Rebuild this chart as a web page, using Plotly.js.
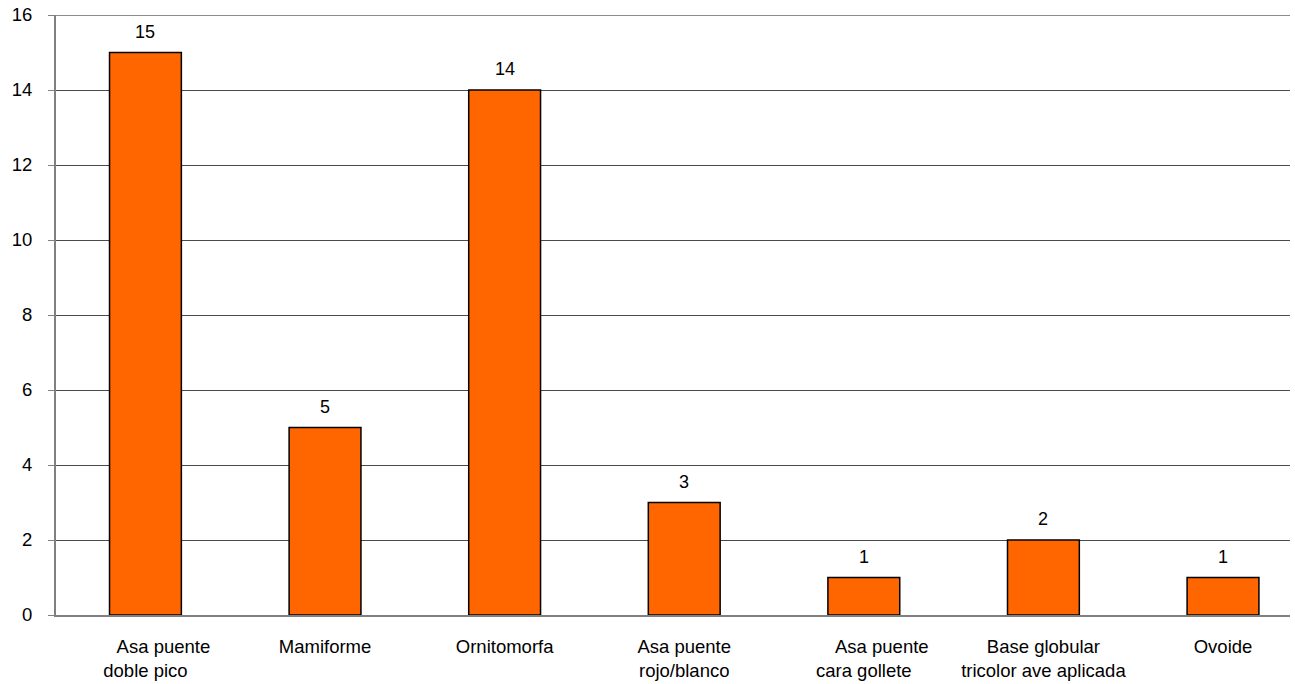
<!DOCTYPE html>
<html>
<head>
<meta charset="utf-8">
<script src="https://cdn.plot.ly/plotly-3.0.1.min.js"></script>
<style>html,body{margin:0;padding:0;background:#fff;}#chart{width:1295px;height:684px;}</style>
</head>
<body>
<div id="chart"></div>
<script>
const NB = '\u00a0\u00a0\u00a0\u00a0\u00a0\u00a0\u00a0';
const categories = [
  NB + "Asa puente<br>doble pico",
  "Mamiforme",
  "Ornitomorfa",
  "Asa puente<br>rojo/blanco",
  NB + "Asa puente<br>cara gollete",
  "Base globular<br>tricolor ave aplicada",
  "Ovoide"
];
const values = [15, 5, 14, 3, 1, 2, 1];
const yTicks = [0, 2, 4, 6, 8, 10, 12, 14, 16];

const FONT = 'Liberation Sans, Arial, sans-serif';

const trace = {
  type: 'bar',
  x: categories,
  y: values,
  marker: {color: '#FF6600', line: {color: '#000', width: 1.5}},
  hoverinfo: 'none'
};

const annotations = values.map((v, i) => ({
  x: categories[i], y: v, xref: 'x', yref: 'y',
  text: String(v), showarrow: false,
  yanchor: 'bottom', yshift: 9,
  font: {family: FONT, size: 18, color: '#000'}
}));

const layout = {
  width: 1295, height: 684,
  margin: {l: 56, r: 5, t: 15, b: 69},
  paper_bgcolor: '#fff', plot_bgcolor: '#fff',
  bargap: 0.6,
  showlegend: false,
  font: {family: FONT, size: 18, color: '#000'},
  xaxis: {
    type: 'category',
    range: [-0.498, 6.373],
    showgrid: false,
    showline: true, linecolor: '#808080', linewidth: 2,
    ticks: '', tickfont: {size: 18.5},
    ticklabelstandoff: 14,
    fixedrange: true
  },
  yaxis: {
    range: [0, 16],
    tickvals: yTicks,
    ticktext: yTicks.map(String),
    showgrid: true, gridcolor: '#4a4a4a', gridwidth: 1,
    showline: true, linecolor: '#808080', linewidth: 2,
    ticks: 'outside', ticklen: 6, tickcolor: '#808080', tickwidth: 1,
    tickfont: {size: 18.5},
    ticklabelstandoff: 12,
    zeroline: false,
    fixedrange: true
  },
  annotations: annotations,
  shapes: [{type: 'line', xref: 'paper', yref: 'y', x0: 0, x1: 1, y0: 16, y1: 16, line: {color: '#8c8c8c', width: 2}}]
};

Plotly.newPlot('chart', [trace], layout, {displayModeBar: false, staticPlot: true});
</script>
</body>
</html>
